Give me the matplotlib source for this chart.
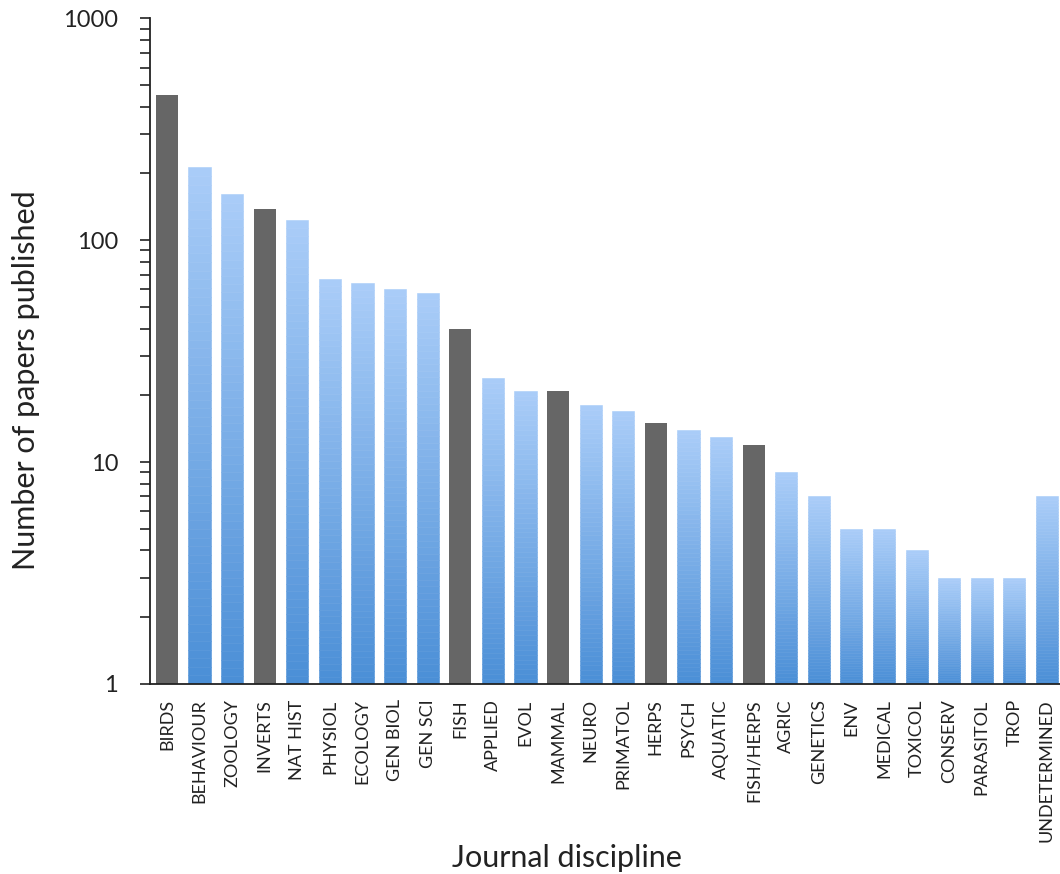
import numpy as np
import matplotlib.pyplot as plt
import matplotlib.colors as mcolors
from matplotlib.ticker import LogLocator, FixedLocator

plt.rcParams['font.family'] = ['Lato', 'DejaVu Sans']

# data
disciplines = ['BIRDS', 'BEHAVIOUR', 'ZOOLOGY', 'INVERTS', 'NAT HIST', 'PHYSIOL',
               'ECOLOGY', 'GEN BIOL', 'GEN SCI', 'FISH', 'APPLIED', 'EVOL',
               'MAMMAL', 'NEURO', 'PRIMATOL', 'HERPS', 'PSYCH', 'AQUATIC',
               'FISH/HERPS', 'AGRIC', 'GENETICS', 'ENV', 'MEDICAL', 'TOXICOL',
               'CONSERV', 'PARASITOL', 'TROP', 'UNDETERMINED']
papers = [450, 213, 161, 138, 123, 67, 64, 60, 58, 40, 24, 21, 21, 18, 17, 15,
          14, 13, 12, 9, 7, 5, 5, 4, 3, 3, 3, 7]
taxon_journals = ['BIRDS', 'INVERTS', 'FISH', 'MAMMAL', 'HERPS', 'FISH/HERPS']

gray = '#666666'
top_col = np.array(mcolors.to_rgb('#aacdf8'))
bot_col = np.array(mcolors.to_rgb('#4a8ed6'))

fig = plt.figure(figsize=(10.6, 8.74), dpi=100)
ax = fig.add_axes([0.1415, 0.2174, 0.8585, 0.7616])
ax.set_yscale('log')

width = 0.68
nseg = 60
x = np.arange(len(disciplines))
for xi, name, v in zip(x, disciplines, papers):
    if name in taxon_journals:
        ax.bar(xi, v - 1, width=width, bottom=1, color=gray, linewidth=0)
        continue
    # vertical gradient: light at the top of each bar, darker at the bottom
    edges = np.logspace(0, np.log10(v), nseg + 1)
    for k in range(nseg):
        f = (k + 0.5) / nseg
        c = bot_col * (1 - f) + top_col * f
        ax.bar(xi, edges[k + 1] - edges[k], width=width, bottom=edges[k],
               color=c, edgecolor=c, linewidth=0.4)

ax.set_ylim(1, 1000)
ax.set_xlim(-0.52, 27.4)

ax.yaxis.set_major_locator(FixedLocator([1, 10, 100, 1000]))
ax.yaxis.set_minor_locator(LogLocator(base=10, subs=np.arange(2, 10)))
ax.set_yticklabels(['1', '10', '100', '1000'])
ax.tick_params(axis='y', which='both', direction='out', length=7, width=1.2,
               color='#222222', labelsize=17, labelcolor='#222222', pad=16)
ax.tick_params(axis='y', which='minor', labelleft=False)

ax.set_xticks(x)
ax.set_xticklabels(disciplines, rotation=90, fontsize=13, color='#222222')
ax.tick_params(axis='x', length=0, pad=11)

for side in ['top', 'right']:
    ax.spines[side].set_visible(False)
for side in ['left', 'bottom']:
    ax.spines[side].set_color('#222222')
    ax.spines[side].set_linewidth(1.3)

ax.set_ylabel('Number of papers published', fontsize=22, color='#222222')
ax.set_xlabel('Journal discipline', fontsize=22, color='#222222')
ax.yaxis.set_label_coords(-0.121, 0.456)
ax.xaxis.set_label_coords(0.458, -0.240)

fig.savefig('out.png', dpi=100)
